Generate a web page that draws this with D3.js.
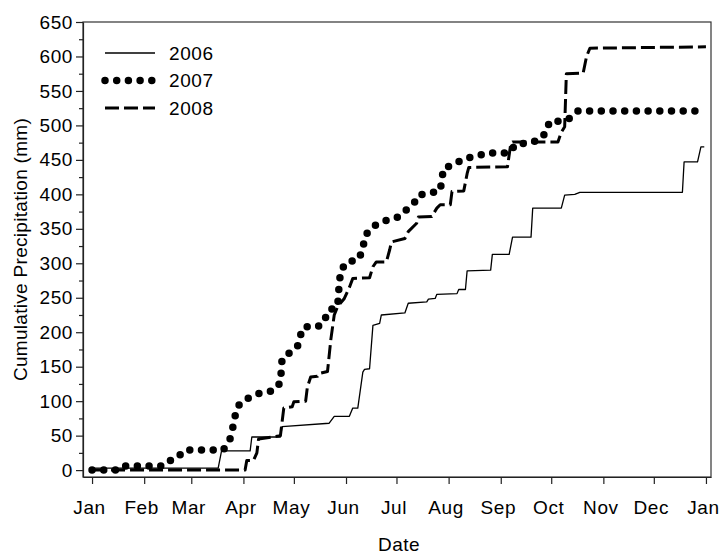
<!DOCTYPE html>
<html>
<head>
<meta charset="utf-8">
<script src="https://cdn.jsdelivr.net/npm/d3@7"></script>
<style>
    body { margin: 0; background: #fff; }
    text { font-family: "Liberation Sans", Arial, sans-serif; fill: #000; }
</style>
</head>
<body>
<div id="chart"></div>
<script>
//Cumulative precipitation.
//Day of year (0 = Jan 1) and running total in mm for each year.
const days2006 = [0, 75, 77, 94, 95, 112, 113, 141, 144, 153, 155, 158, 161, 162, 165, 167, 171, 172, 186, 188, 199, 200, 204, 205, 217, 218, 222, 223, 237, 238, 248, 250, 261, 262, 279, 281, 287, 290, 351, 352, 360, 362, 364];
const precip2006 = [3, 3, 28, 28, 48, 48, 63, 68, 78, 78, 90, 90, 142, 146, 147, 210, 213, 225, 228, 242, 244, 248, 249, 255, 256, 262, 262, 289, 290, 313, 313, 338, 338, 380, 380, 399, 400, 403, 403, 447, 447, 469, 469];

const days2007 = [0, 15, 18, 42, 45, 50, 55, 78, 82, 84, 86, 89, 94, 100, 108, 112, 113, 118, 122, 124, 126, 134, 138, 140, 146, 147, 148, 152, 158, 161, 162, 165, 170, 176, 182, 186, 191, 194, 201, 207, 208, 209, 215, 221, 228, 235, 248, 252, 259, 266, 270, 272, 279, 285, 289, 364];
const precip2007 = [0, 0, 6, 6, 13, 16, 29, 29, 45, 65, 90, 99, 106, 112, 115, 127, 162, 171, 178, 196, 208, 208, 214, 231, 237, 272, 290, 303, 304, 319, 338, 349, 358, 363, 367, 376, 385, 399, 402, 405, 422, 438, 443, 452, 455, 460, 460, 473, 474, 479, 490, 506, 506, 511, 521, 521];

const days2008 = [0, 91, 92, 96, 98, 99, 112, 113, 114, 119, 120, 127, 128, 130, 134, 135, 140, 142, 144, 146, 150, 153, 155, 165, 167, 169, 175, 177, 178, 186, 188, 193, 194, 202, 205, 207, 213, 214, 221, 223, 224, 247, 249, 250, 277, 279, 281, 282, 292, 294, 296, 365];
const precip2008 = [0, 0, 14, 14, 25, 45, 50, 70, 90, 92, 99, 100, 120, 135, 136, 140, 143, 190, 225, 237, 249, 265, 278, 279, 295, 302, 302, 320, 331, 336, 346, 358, 367, 368, 380, 385, 385, 404, 405, 430, 439, 440, 474, 476, 476, 490, 498, 575, 576, 600, 612, 614];

const seriesNames = ['2006', '2007', '2008'];
const yTicks = d3.range(0, 651, 50);
const yMinorTicks = d3.range(25, 650, 50);

//Chart size
const width = 720;
const height = 556;
const margin = { top: 22, right: 9, bottom: 79, left: 83 };

const toDate = (day) => new Date(2006, 0, 1 + day);

const svg = d3.select("#chart")
    .append("svg")
    .attr("width", width)
    .attr("height", height);

//Scales
const x = d3.scaleTime()
    .domain([new Date(2005, 11, 26, 15), new Date(2007, 0, 4)])
    .range([margin.left, width - margin.right]);

const y = d3.scaleLinear()
    .domain([-10, 650])
    .range([height - margin.bottom, margin.top]);

//Frame on top and right
svg.append("rect")
    .attr("x", margin.left)
    .attr("y", margin.top)
    .attr("width", width - margin.right - margin.left)
    .attr("height", height - margin.bottom - margin.top)
    .style("fill", "none")
    .style("stroke", "#333")
    .style("stroke-width", 1.2);

//Axes
svg.append("g")
    .attr("transform", `translate(0,${height - margin.bottom})`)
    .call(d3.axisBottom(x)
        .ticks(d3.timeMonth.every(1))
        .tickFormat(d3.timeFormat("%b"))
        .tickSize(7)
        .tickSizeOuter(0)
        .tickPadding(17))
    .selectAll(".tick text")
    .attr("dx", -3);

svg.append("g")
    .attr("transform", `translate(${margin.left},0)`)
    .call(d3.axisLeft(y)
        .tickValues(yTicks)
        .tickSize(7)
        .tickSizeOuter(0)
        .tickPadding(3));

//minor ticks between the labelled ones
svg.append("g")
    .attr("transform", `translate(${margin.left},0)`)
    .call(d3.axisLeft(y)
        .tickValues(yMinorTicks)
        .tickSize(4)
        .tickSizeOuter(0)
        .tickFormat(""))
    .select(".domain").remove();

svg.selectAll(".tick text")
    .style("font-size", "19px")
    .style("letter-spacing", "0.6px")
    .style("font-family", '"Liberation Sans", Arial, sans-serif');
svg.selectAll(".domain, .tick line")
    .style("stroke", "#222")
    .style("stroke-width", 1.2);

//Axis titles
svg.append("text")
    .attr("transform", `translate(26.5,${(margin.top + height - margin.bottom) / 2}) rotate(-90)`)
    .attr("text-anchor", "middle")
    .style("font-size", "19px")
    .style("letter-spacing", "0.3px")
    .text("Cumulative Precipitation (mm)");

svg.append("text")
    .attr("x", 399)
    .attr("y", 551)
    .attr("text-anchor", "middle")
    .style("font-size", "19px")
    .style("letter-spacing", "0.5px")
    .text("Date");

//Line styles for each year
const styles = {
    '2006': { width: 1.3, dash: null, cap: "butt" },
    '2007': { width: 7.5, dash: "0 11.7", cap: "round" },
    '2008': { width: 3, dash: "14 5", cap: "butt" }
};

const series = [
    { name: '2006', days: days2006, values: precip2006 },
    { name: '2007', days: days2007, values: precip2007 },
    { name: '2008', days: days2008, values: precip2008 }
];

const line = d3.line()
    .x(d => x(toDate(d[0])))
    .y(d => y(d[1]));

svg.selectAll(".series")
    .data(series)
    .enter().append("path")
    .attr("class", "series")
    .attr("d", d => line(d3.zip(d.days, d.values)))
    .style("fill", "none")
    .style("stroke", "#000")
    .style("stroke-width", d => styles[d.name].width)
    .style("stroke-dasharray", d => styles[d.name].dash)
    .style("stroke-linecap", d => styles[d.name].cap)
    .style("stroke-linejoin", "round");

//Legend
const legend = svg.selectAll(".legend")
    .data(seriesNames)
    .enter().append("g")
    .attr("class", "legend")
    .attr("transform", (d, i) => `translate(105,${53 + i * 27.5})`);

legend.append("line")
    .attr("x1", 0)
    .attr("x2", d => d == '2007' ? 47 : 50)
    .style("stroke", "#000")
    .style("stroke-width", d => styles[d].width)
    .style("stroke-dasharray", d => styles[d].dash)
    .style("stroke-linecap", d => styles[d].cap);

legend.append("text")
    .attr("x", 64)
    .attr("y", 6.8)
    .style("font-size", "19px")
    .style("letter-spacing", "0.6px")
    .text(d => d);
</script>
</body>
</html>
